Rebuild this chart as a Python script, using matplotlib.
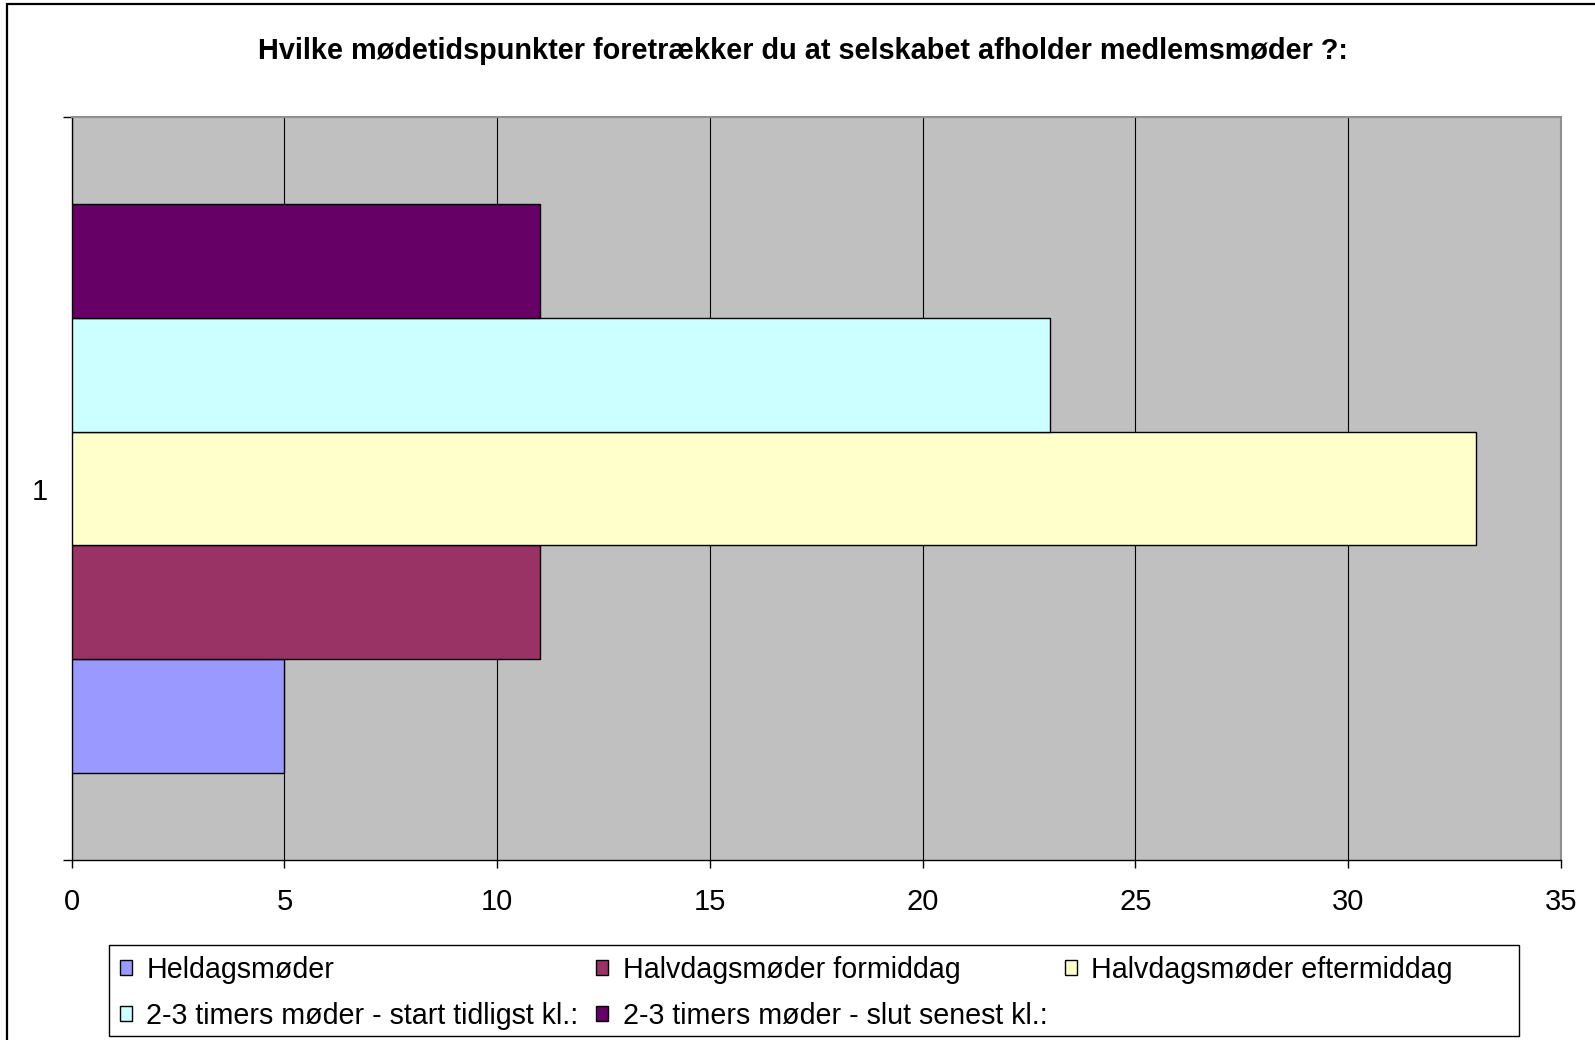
import matplotlib
matplotlib.use('Agg')
import matplotlib.pyplot as plt
from matplotlib.patches import Rectangle
from matplotlib.ticker import FixedLocator

plt.rcParams['font.family'] = ['Liberation Sans', 'DejaVu Sans']

#### Data
title = 'Hvilke mødetidspunkter foretrækker du at selskabet afholder medlemsmøder ?:'
series = ['Heldagsmøder',
          'Halvdagsmøder formiddag',
          'Halvdagsmøder eftermiddag',
          '2-3 timers møder - start tidligst kl.:',
          '2-3 timers møder - slut senest kl.:']
values = [5, 11, 33, 23, 11]
colors = ['#9999FF', '#993366', '#FFFFCC', '#CCFFFF', '#660066']
category = 1
xticks = [0, 5, 10, 15, 20, 25, 30, 35]

W, H = 1595, 1040
fig = plt.figure(figsize=(W / 100, H / 100), dpi=100)
fig.patch.set_facecolor('white')

# outer chart border (right and bottom are cut off in the reference)
fig.patches.append(Rectangle((7 / W, -0.05), 1.1, 1 - 4 / H + 0.05,
                             transform=fig.transFigure, fill=False,
                             edgecolor='black', linewidth=1.6))

ax = fig.add_axes([71.7 / W, 1 - 860 / H, (1560.7 - 71.7) / W, (860 - 117) / H])
ax.set_facecolor('#C0C0C0')

group = 0.766
bh = group / len(values)
for i, (name, v, c) in enumerate(zip(series, values, colors)):
    y = category - group / 2 + (i + 0.5) * bh
    ax.barh(y, v, height=bh, color=c, edgecolor='black', linewidth=1.0,
            label=name, zorder=3)

ax.set_xlim(0, 35)
ax.set_ylim(category - 0.5, category + 0.5)
ax.set_xticks(xticks)
ax.set_xticklabels([str(t) for t in xticks], fontsize=21)
ax.tick_params(axis='x', length=6, width=1, color='black', pad=14)
ax.xaxis.grid(True, color='black', linewidth=0.8, zorder=1)
ax.set_axisbelow(True)

ax.set_yticks([category])
ax.set_yticklabels([str(category)], fontsize=21)
ax.tick_params(axis='y', which='major', length=0, pad=17.5)
ax.yaxis.set_minor_locator(FixedLocator([category - 0.5, category + 0.5]))
ax.tick_params(axis='y', which='minor', length=6.5, width=1, color='black')

for s in ['left', 'bottom']:
    ax.spines[s].set_color('black')
    ax.spines[s].set_linewidth(1.0)
for s in ['top', 'right']:
    ax.spines[s].set_color('#909090')
    ax.spines[s].set_linewidth(1.5)

fig.text(803 / W, 1 - 51 / H, title, ha='center', va='center',
         fontsize=20.8, fontweight='bold')

# legend box
fig.patches.append(Rectangle((109 / W, 1 - 1036 / H), (1519 - 109) / W, (1036 - 945) / H,
                             transform=fig.transFigure, fill=True, facecolor='white',
                             edgecolor='black', linewidth=1.0, zorder=5))

# legend filled row by row like the original
handles, labels = ax.get_legend_handles_labels()
order = [0, 3, 1, 4, 2]
leg = fig.legend([handles[k] for k in order], [labels[k] for k in order],
                 ncol=3, loc='upper left',
                 bbox_to_anchor=(120 / W, 1 - 956 / H),
                 bbox_transform=fig.transFigure,
                 fontsize=20.6, frameon=False,
                 handlelength=0.42, handleheight=0.42, handletextpad=0.5,
                 labelspacing=0.62, borderpad=0.0, columnspacing=0.62,
                 borderaxespad=0)
leg.set_zorder(6)

fig.savefig('out.png', dpi=100)
